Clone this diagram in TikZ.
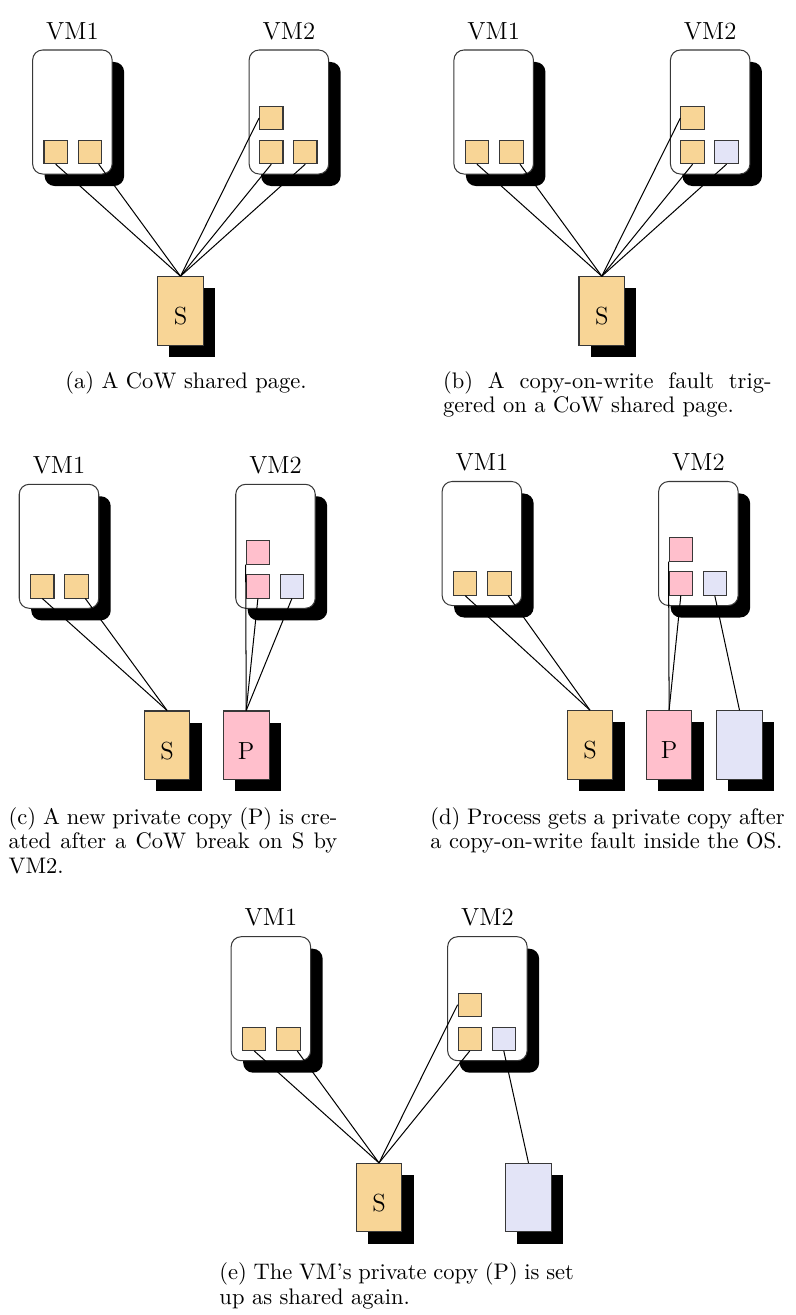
\documentclass[tikz,border=0pt]{standalone}
\usetikzlibrary{shadows}

\definecolor{sharedfill}{HTML}{F8D596}
\definecolor{privfill}{HTML}{FFBFCC}
\definecolor{freshfill}{HTML}{E3E4F7}
\definecolor{edge}{gray}{0.22}

% Two guest VMs with their page slots: #1 name prefix, #2..#4 fills of the VM2 slots
\newcommand\vmpair[4]{%
  \node[vmbox] (#1-vm1) at (72.4,112) {};
  \node[vmbox] (#1-vm2) at (288.9,112) {};
  \node[vmlabel] (#1-n1) at (72.4,39) {VM1};
  \node[vmlabel] (#1-n2) at (288.9,39) {VM2};
  \node[memslot, fill=sharedfill] (#1-s1) at (55.7,152) {};
  \node[memslot, fill=sharedfill] (#1-s2) at (90,152) {};
  \node[memslot, fill=#2] (#1-t1) at (271.3,118) {};
  \node[memslot, fill=#3] (#1-t2) at (271.3,152) {};
  \node[memslot, fill=#4] (#1-t3) at (305.3,152) {};
}

\begin{document}
\begin{tikzpicture}[x=0.4444pt, y=-0.4444pt,
  vmbox/.style={draw=edge, line width=0.45pt, fill=white, rounded corners=4.44pt,
    minimum width=35.33pt, minimum height=55.11pt, inner sep=0pt,
    drop shadow={shadow xshift=5.33pt, shadow yshift=-5.33pt, fill=black, opacity=1}},
  vmlabel/.style={anchor=base, inner sep=0pt, font=\fontsize{11}{13}\selectfont},
  memslot/.style={draw=edge, line width=0.45pt, minimum size=10.4pt, inner sep=0pt},
  pageframe/.style={draw=edge, line width=0.45pt, minimum width=20.27pt, minimum height=30.4pt,
    inner sep=0pt, font=\fontsize{11}{13}\selectfont, text height=12.4pt, text depth=0pt,
    drop shadow={shadow xshift=5.2pt, shadow yshift=-5.2pt, fill=black, opacity=1}},
  link/.style={draw=black, line width=0.45pt},
  caption/.style={anchor=base, inner sep=0pt, font=\fontsize{10}{11.1}\selectfont}]

\useasboundingbox (0,0) rectangle (795,1315);

% (a) one shared page
\begin{scope}
  \vmpair{a}{sharedfill}{sharedfill}{sharedfill}
  \node[pageframe, fill=sharedfill] (a-S) at (180.5,310.9) {S};
  \draw[link] (a-s1.south) -- (a-S.north);
  \draw[link] ([xshift=3.87pt]a-s2.south) -- (a-S.north);
  \draw[link] (a-t1.west) -- (a-S.north);
  \draw[link] (a-t2.south) -- (a-S.north);
  \draw[link] (a-t3.south) -- (a-S.north);
\end{scope}
\node[caption] (a-cap) at (186,388) {(a) A CoW shared page.};

% (b) write fault on the shared page
\begin{scope}[shift={(421.3,0)}]
  \vmpair{b}{sharedfill}{sharedfill}{freshfill}
  \node[pageframe, fill=sharedfill] (b-S) at (180.5,310.9) {S};
  \draw[link] (b-s1.south) -- (b-S.north);
  \draw[link] ([xshift=3.87pt]b-s2.south) -- (b-S.north);
  \draw[link] (b-t1.west) -- (b-S.north);
  \draw[link] (b-t2.south) -- (b-S.north);
  \draw[link] (b-t3.south) -- (b-S.north);
\end{scope}
\node[caption] (b-cap) at (607.3,388) {\parbox[t]{146pt}{(b) A copy-on-write fault trig-\linebreak gered on a CoW shared page.}};

% (c) private copy after the CoW break
\begin{scope}[shift={(-13.4,434.3)}]
  \vmpair{c}{privfill}{privfill}{freshfill}
  \node[pageframe, fill=sharedfill] (c-S) at (180.5,310.9) {S};
  \node[pageframe, fill=privfill] (c-P) at (259.6,310.9) {P};
  \draw[link] (c-s1.south) -- (c-S.north);
  \draw[link] ([xshift=3.87pt]c-s2.south) -- (c-S.north);
  \draw[link] (c-t1.south west) -- (c-P.north);
  \draw[link] (c-t2.south) -- (c-P.north);
  \draw[link] (c-t3.south) -- (c-P.north);
\end{scope}
\node[caption] (c-cap) at (173,824) {\parbox[t]{146pt}{(c) A new private copy (P) is cre-\linebreak ated after a CoW break on S by\linebreak VM2.}};

% (d) process-level copy inside the guest
\begin{scope}[shift={(409.5,431.5)}]
  \vmpair{d}{privfill}{privfill}{freshfill}
  \node[pageframe, fill=sharedfill] (d-S) at (180.5,313.4) {S};
  \node[pageframe, fill=privfill] (d-P) at (259.6,313.4) {P};
  \node[pageframe, fill=freshfill] (d-L) at (330,313.4) {};
  \draw[link] (d-s1.south) -- (d-S.north);
  \draw[link] ([xshift=3.87pt]d-s2.south) -- (d-S.north);
  \draw[link] (d-t1.south west) -- (d-P.north);
  \draw[link] (d-t2.south) -- (d-P.north);
  \draw[link] (d-t3.south) -- (d-L.north);
\end{scope}
\node[caption] (d-cap) at (607.5,824) {\parbox[t]{157.5pt}{(d) Process gets a private copy after\linebreak a copy-on-write fault inside the OS.}};

% (e) private copy merged back into the shared page
\begin{scope}[shift={(198.5,886.7)}]
  \vmpair{e}{sharedfill}{sharedfill}{freshfill}
  \node[pageframe, fill=sharedfill] (e-S) at (180.5,310.9) {S};
  \node[pageframe, fill=freshfill] (e-L) at (330,310.9) {};
  \draw[link] (e-s1.south) -- (e-S.north);
  \draw[link] ([xshift=3.87pt]e-s2.south) -- (e-S.north);
  \draw[link] (e-t1.west) -- (e-S.north);
  \draw[link] (e-t2.south) -- (e-S.north);
  \draw[link] (e-t3.south) -- (e-L.north);
\end{scope}
\node[caption] (e-cap) at (396.7,1279.3) {\parbox[t]{157.5pt}{(e) The VM's private copy (P) is set\linebreak up as shared again.}};

\end{tikzpicture}
\end{document}
